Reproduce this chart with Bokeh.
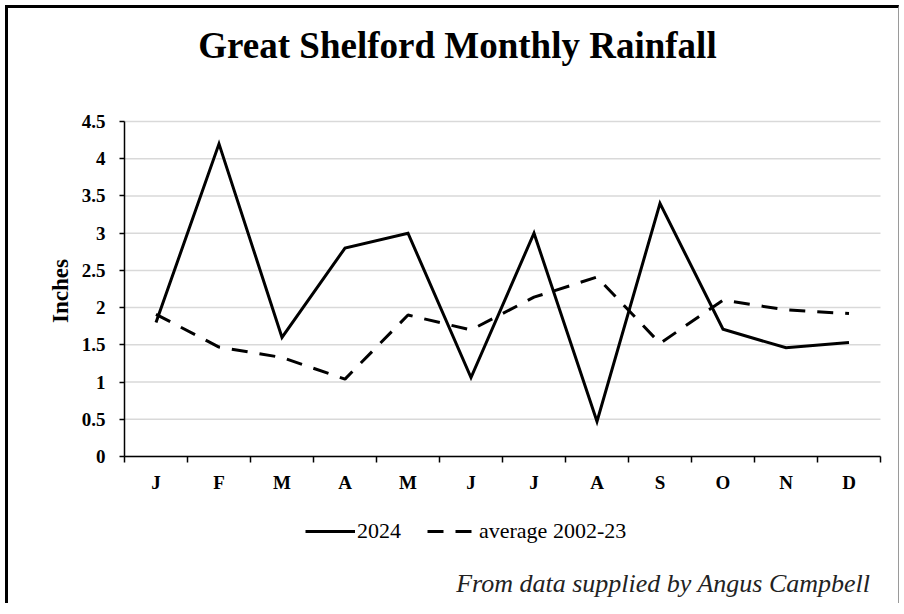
from math import pi
from bokeh.plotting import figure
from bokeh.models import (Range1d, FixedTicker, Legend, LegendItem, Label, LinearAxis)
from bokeh.embed import file_html
from bokeh.resources import INLINE

# ---- data ----
months = ["J", "F", "M", "A", "M", "J", "J", "A", "S", "O", "N", "D"]
rain_2024 = [1.8, 4.2, 1.6, 2.8, 3.0, 1.06, 3.0, 0.47, 3.4, 1.71, 1.46, 1.53]
rain_avg = [1.91, 1.47, 1.33, 1.04, 1.9, 1.7, 2.14, 2.41, 1.52, 2.1, 1.97, 1.92]
y_ticks = [0, 0.5, 1, 1.5, 2, 2.5, 3, 3.5, 4, 4.5]
y_tick_labels = ["0", "0.5", "1", "1.5", "2", "2.5", "3", "3.5", "4", "4.5"]
series_names = ["2024", "average 2002-23"]
title_text = "Great Shelford Monthly Rainfall"
credit_text = "From data supplied by Angus Campbell"
y_title = "Inches"

n = len(months)
xs = [i + 0.5 for i in range(n)]
y_max = y_ticks[-1]

SERIF = "Liberation Serif"

# canvas 894x598; plot area: 756 px for 12 months, 335 px for 4.5 inches
W, H = 894, 598
PX_X = 756 / n          # px per month
PX_Y = 335 / y_max      # px per inch
LEFT_PX, BOTTOM_PX = 116, 150   # plot-area offsets inside the canvas
x0 = -LEFT_PX / PX_X
x1 = x0 + W / PX_X
y0 = -BOTTOM_PX / PX_Y
y1 = y0 + H / PX_Y

p = figure(width=W, height=H, output_backend="svg", toolbar_location=None,
           x_range=Range1d(x0, x1), y_range=Range1d(y0, y1),
           x_axis_location=None, y_axis_location=None,
           min_border=0)
p.styles = {"border-top": "3px solid black", "border-left": "3px solid black",
            "border-right": "1px solid #9a9a9a",
            "margin-left": "5px", "margin-top": "5px"}
p.outline_line_color = None
p.background_fill_color = "white"
p.border_fill_color = "white"
p.grid.visible = False

# horizontal gridlines
p.segment(x0=[0] * len(y_ticks), x1=[n] * len(y_ticks), y0=y_ticks, y1=y_ticks,
          line_color="#d9d9d9", line_width=1.5)

# y axis
ya = LinearAxis(fixed_location=0, bounds=(0, y_max))
ya.ticker = FixedTicker(ticks=y_ticks)
ya.major_label_overrides = {t: l for t, l in zip(y_ticks, y_tick_labels)}
ya.axis_line_color = "black"
ya.axis_line_width = 1.5
ya.major_tick_line_color = "black"
ya.major_tick_line_width = 1.5
ya.major_tick_out = 5
ya.major_tick_in = 0
ya.minor_tick_line_color = None
ya.major_label_text_font = SERIF
ya.major_label_text_font_style = "bold"
ya.major_label_text_font_size = "19px"
ya.major_label_text_color = "black"
ya.major_label_standoff = 14
p.add_layout(ya, "left")

# x axis
xa = LinearAxis(fixed_location=0, bounds=(0, n))
xa.ticker = FixedTicker(ticks=xs, minor_ticks=list(range(n + 1)))
xa.major_label_overrides = {x: m for x, m in zip(xs, months)}
xa.axis_line_color = "black"
xa.axis_line_width = 1.5
xa.major_tick_line_color = None
xa.major_tick_out = 0
xa.major_tick_in = 0
xa.minor_tick_line_color = "black"
xa.minor_tick_line_width = 1.5
xa.minor_tick_out = 6
xa.minor_tick_in = 0
xa.major_label_text_font = SERIF
xa.major_label_text_font_style = "bold"
xa.major_label_text_font_size = "19px"
xa.major_label_text_color = "black"
xa.major_label_standoff = 9
p.add_layout(xa, "below")

# lines
r1 = p.line(xs, rain_2024, line_color="black", line_width=3, line_join="miter")
r2 = p.line(xs, rain_avg, line_color="black", line_width=3, line_dash="16 12")

legend = Legend(items=[LegendItem(label=series_names[0], renderers=[r1]),
                       LegendItem(label=series_names[1], renderers=[r2])],
                orientation="horizontal", location=(297, 62),
                padding=0, margin=0, spacing=26, label_standoff=2,
                glyph_width=50, glyph_height=24,
                label_text_font=SERIF, label_text_font_size="22px",
                label_text_color="black",
                border_line_color=None, background_fill_alpha=0)
p.add_layout(legend)

# texts (positions in the chart's own data coordinates)
p.add_layout(Label(x=333 / PX_X, y=y_max + 76 / PX_Y, text=title_text,
                   text_align="center", text_baseline="alphabetic",
                   text_font=SERIF, text_font_style="bold",
                   text_font_size="37px", text_color="black"))
p.add_layout(Label(x=-64 / PX_X, y=y_max / 2 - 2 / PX_Y, text=y_title, angle=pi / 2,
                   text_align="center", text_baseline="middle",
                   text_font=SERIF, text_font_style="bold",
                   text_font_size="23px", text_color="black"))
p.add_layout(Label(x=746 / PX_X, y=-127 / PX_Y, text=credit_text,
                   text_align="right", text_baseline="alphabetic",
                   text_font=SERIF, text_font_style="italic",
                   text_font_size="26px", text_color="#222222"))

open("out.html", "w").write(file_html(p, INLINE))
